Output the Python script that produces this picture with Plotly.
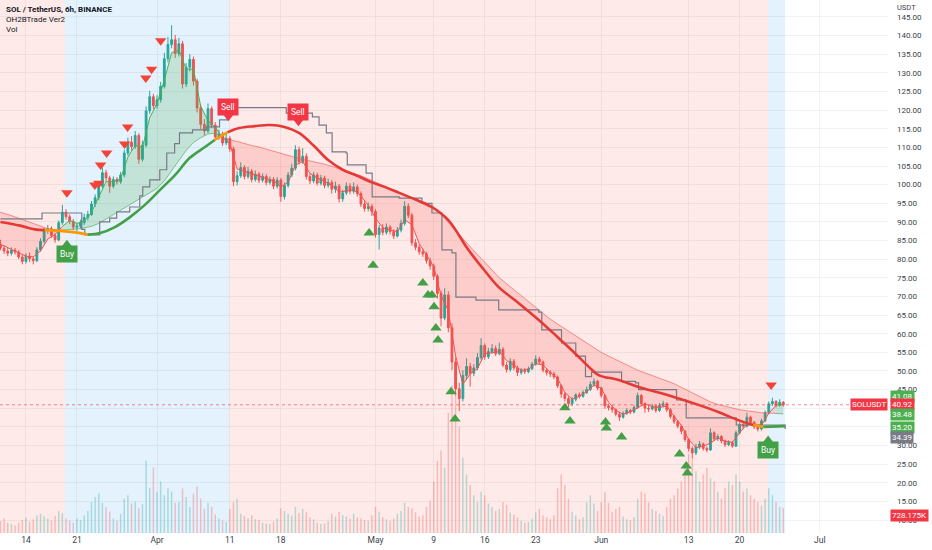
import plotly.graph_objects as go
import pandas as pd
import numpy as np

# ---- 12h candles, SOL/USDT (Mar 10 12:00 -> Jun 26 00:00) ----
first_open = 84.0
close = [
    83.0,
    82.2, 81.6, 82.4, 81.9, 80.6, 79.4, 80.8, 80.1, 79.6, 82.5,
    84.8, 87.6, 88.2, 86.4, 85.2, 89.8, 92.6, 91.4, 90.2, 88.6,
    88.9, 89.8, 91.2, 92.0, 94.8, 96.5, 99.6, 103.2, 101.8, 99.6,
    101.4, 100.8, 102.6, 108.5, 111.4, 110.2, 113.2, 106.8, 110.6, 119.8,
    123.6, 121.2,
    122.8, 126.4, 133.8, 137.6, 138.9, 135.2, 137.8, 127.0, 131.5, 133.6,
    127.8, 120.6, 116.2, 114.4, 120.4, 116.0, 112.8, 113.6, 111.2, 112.4,
    109.6, 100.8, 102.4, 104.6, 102.2, 103.6, 101.4, 102.8, 101.2, 102.2,
    100.6, 101.4, 99.6, 101.2, 96.8, 99.8, 102.6, 104.4, 109.4, 106.2,
    107.6, 102.2, 101.0, 102.6, 100.4, 101.8, 99.8, 100.6, 98.8, 99.6,
    96.2, 97.8, 99.6, 98.2, 99.4, 97.6, 94.8, 93.6, 94.2, 92.8,
    86.6, 88.4, 87.2, 88.6, 87.4, 86.2, 87.8, 89.6, 94.2, 91.8,
    84.4, 83.2, 82.0, 81.4, 79.6, 78.2, 75.4, 70.8, 64.2, 70.4,
    61.6, 52.4, 45.2, 42.6, 48.8, 51.2, 49.4, 50.8, 53.6, 56.8,
    53.8, 55.2, 56.0, 54.6, 55.8, 51.6, 50.4, 52.6, 50.8, 49.6,
    50.2, 49.8, 50.6, 51.8, 53.2, 52.4, 50.2, 49.6, 49.2, 48.4,
    46.0, 43.8, 42.6, 41.2, 42.4, 43.6, 43.2, 44.2, 45.0, 46.4,
    47.2, 45.4,
    43.4, 40.6, 40.2, 39.6, 38.4, 37.6, 38.6, 39.4, 39.0, 40.2,
    43.4, 41.2, 40.0, 39.8, 40.6, 39.4, 40.8, 41.2, 39.6, 37.8,
    36.4, 35.2, 33.8, 31.6, 29.2, 28.0, 29.6, 30.4, 29.2, 28.8,
    33.4, 31.8, 32.4, 31.2, 30.2, 30.8, 29.8, 33.4, 35.6, 35.2,
    37.6, 36.2, 35.0, 34.4, 36.6, 38.8, 41.2, 41.8, 40.8, 41.6,
    40.92,
]
high = [
    85.2,
    83.8, 83.0, 83.2, 83.0, 82.4, 81.2, 81.6, 81.8, 80.8, 83.2,
    85.6, 88.4, 89.2, 88.8, 87.0, 90.4, 94.6, 93.4, 92.0, 90.8,
    89.8, 90.6, 92.2, 93.0, 95.6, 97.4, 100.4, 104.6, 104.0, 102.4,
    102.2, 102.0, 103.4, 109.4, 112.6, 113.0, 114.4, 113.8, 111.8, 121.0,
    125.2, 124.4,
    124.0, 127.6, 135.4, 139.6, 142.8, 140.2, 139.4, 138.6, 132.6, 135.0,
    134.4, 128.4, 121.4, 117.6, 121.8, 121.0, 116.8, 114.8, 114.2, 113.6,
    113.0, 110.2, 103.6, 106.0, 105.2, 104.8, 104.2, 103.8, 103.4, 103.0,
    102.8, 102.2, 102.0, 102.0, 101.8, 100.6, 103.4, 105.6, 110.6, 110.2,
    109.8, 108.4, 103.0, 103.4, 103.2, 102.6, 102.4, 101.6, 101.2, 100.8,
    100.2, 98.6, 100.6, 100.4, 100.6, 100.0, 98.2, 95.6, 95.2, 94.8,
    93.4, 89.2, 89.4, 89.6, 89.2, 88.0, 88.6, 90.6, 95.6, 95.0,
    92.4, 85.4, 84.0, 82.8, 82.0, 80.4, 78.8, 76.0, 71.6, 72.2,
    71.4, 62.8, 53.6, 46.8, 50.2, 53.4, 52.2, 51.8, 54.8, 58.8,
    57.4, 56.2, 57.2, 56.8, 57.6, 56.4, 52.4, 53.4, 53.2, 51.4,
    50.8, 50.8, 51.2, 52.4, 54.2, 53.8, 52.8, 50.8, 50.2, 49.8,
    48.8, 46.4, 44.4, 43.2, 43.0, 44.0, 44.2, 44.8, 45.8, 47.2,
    48.0, 47.6,
    45.8, 43.8, 41.2, 40.8, 40.0, 39.0, 39.2, 40.0, 39.8, 40.8,
    44.2, 43.8, 41.6, 40.8, 41.2, 41.0, 41.4, 42.0, 41.6, 40.0,
    38.2, 36.8, 35.6, 34.2, 32.0, 29.8, 30.4, 31.2, 30.8, 29.8,
    34.6, 33.8, 33.0, 32.8, 31.6, 31.4, 31.2, 34.0, 36.2, 36.4,
    38.8, 38.0, 36.6, 35.6, 37.2, 39.4, 41.8, 42.8, 42.2, 42.4,
    41.9,
]
low = [
    82.4,
    81.4, 80.8, 81.0, 81.2, 80.0, 78.6, 78.8, 79.2, 78.6, 79.2,
    82.0, 84.2, 86.8, 85.8, 84.4, 84.8, 89.2, 90.6, 89.4, 87.8,
    87.6, 88.2, 89.2, 90.4, 91.6, 94.0, 95.8, 99.0, 100.8, 97.8,
    99.0, 100.0, 100.2, 102.0, 107.8, 109.2, 109.6, 105.6, 106.2, 110.0,
    119.0, 120.2,
    120.4, 122.0, 125.8, 132.8, 136.6, 134.0, 134.4, 125.8, 126.2, 130.4,
    126.6, 119.4, 114.8, 113.2, 113.8, 115.2, 111.8, 112.0, 110.4, 110.6,
    108.8, 99.6, 99.8, 101.8, 101.4, 101.6, 100.6, 100.8, 100.4, 100.6,
    99.8, 100.0, 98.8, 99.0, 95.4, 96.0, 99.2, 102.0, 103.8, 105.4,
    105.6, 101.4, 100.2, 100.4, 99.8, 99.8, 99.0, 99.2, 97.6, 97.8,
    95.2, 95.4, 97.2, 97.4, 97.6, 96.8, 94.0, 92.8, 92.8, 91.6,
    85.8, 82.6, 86.4, 86.6, 86.6, 85.4, 85.8, 87.2, 89.0, 91.0,
    83.6, 82.4, 81.2, 80.6, 78.8, 77.2, 74.4, 69.4, 62.0, 63.6,
    60.4, 50.2, 43.4, 39.2, 41.8, 47.6, 45.8, 48.6, 50.2, 53.0,
    53.0, 53.2, 54.6, 54.0, 54.2, 51.0, 49.6, 49.8, 50.2, 48.6,
    49.0, 49.2, 49.4, 50.2, 51.4, 51.8, 49.6, 48.8, 48.4, 47.8,
    45.4, 42.8, 41.8, 40.2, 40.6, 41.8, 42.6, 42.8, 43.8, 44.6,
    45.8, 44.8,
    42.8, 39.8, 39.4, 38.8, 37.8, 36.6, 37.2, 38.2, 38.4, 38.6,
    39.8, 40.6, 38.8, 39.0, 39.4, 38.8, 39.0, 40.2, 39.0, 37.2,
    35.8, 34.6, 33.0, 31.0, 28.4, 26.6, 27.4, 29.0, 28.6, 28.2,
    28.6, 31.2, 31.2, 30.6, 29.6, 29.8, 29.4, 29.6, 33.0, 34.4,
    34.8, 35.6, 34.4, 33.8, 34.0, 36.2, 38.4, 40.6, 40.2, 40.4,
    40.4,
]
volume_k = [
    350,
    420, 300, 260, 220, 300, 380, 450, 330, 400, 520,
    560, 480, 420, 360, 500, 640, 580, 420, 360, 300,
    420, 380, 520, 640, 900, 1050, 1150, 880, 760, 620,
    420, 360, 560, 1000, 1100, 860, 920, 720, 840, 2100,
    1300, 1900,
    1200, 1500, 1100, 1300, 1200, 880, 900, 1300, 1050, 760,
    1150, 1350, 1000, 700, 880, 760, 540, 420, 360, 320,
    700, 900, 1000, 560, 500, 440, 520, 400, 380, 300,
    280, 260, 330, 420, 720, 640, 560, 500, 760, 580,
    700, 620, 460, 400, 300, 260, 280, 340, 560, 480,
    620, 520, 480, 420, 560, 460, 420, 380, 360, 520,
    760, 620, 460, 400, 360, 420, 560, 640, 880, 760,
    720, 600, 480, 520, 760, 940, 1500, 2100, 2400, 1900,
    3500, 4300, 4000, 3100, 2200, 1700, 1400, 1100, 900, 1200,
    1100, 860, 760, 640, 700, 900, 820, 600, 540, 460,
    360, 300, 320, 420, 600, 700, 520, 460, 400, 520,
    1300, 1700, 1400, 1000, 620, 520, 400, 460, 900, 1100,
    860, 640,
    900, 1200, 880, 620, 700, 760, 480, 400, 380, 460,
    1000, 1200, 1150, 900, 700, 640, 560, 500, 760, 1000,
    1100, 1300, 1500, 1900, 2300, 2200, 1800, 1500, 1700, 1900,
    1600, 1500, 1200, 1000, 1300, 1500, 1400, 1700, 1500, 1200,
    1300, 1100, 1000, 900, 800, 1000, 1300, 1100, 900, 760,
    728.175,
]

# ---- OH2BTrade lines (daily, Mar 10 -> Jun 26) ----
fast_line = [
    84.0,
    83.6, 82.6, 81.8, 80.8, 80.6, 82.2, 85.4, 86.6, 88.8, 90.4,
    89.6, 90.2, 92.6, 96.8, 100.8, 100.8, 101.6, 107.4, 110.6, 110.0,
    118.0,
    121.8, 128.0, 135.4, 136.2, 131.0, 131.0, 121.0, 117.2, 115.4, 112.6,
    111.0, 104.2, 103.6, 102.8, 102.2, 101.6, 101.0, 99.4, 100.6, 105.2,
    106.2, 103.0, 101.8, 100.9, 99.8, 98.0, 98.4, 98.6, 97.0, 94.4,
    91.0, 88.4, 87.8, 87.4, 90.6, 89.2, 84.2, 81.2, 78.0, 70.2,
    66.2, 54.0, 46.4, 49.2, 50.6, 54.6, 55.0, 55.2, 52.8, 51.6,
    50.2, 50.4, 52.0, 51.6, 49.6, 48.0, 44.2, 42.4, 43.2, 44.4,
    46.2,
    45.4, 41.6, 39.4, 38.4, 39.0, 40.0, 41.2, 40.4, 40.2, 40.6,
    37.8, 35.4, 31.6, 29.4, 29.8, 30.6, 32.0, 31.2, 30.8, 33.4,
    35.6, 35.6, 35.4, 38.6, 40.8, 41.08,
]
slow_line = [
    92.9,
    92.4, 91.7, 91.0, 90.3, 89.5, 88.7, 88.2, 87.9, 87.8, 87.9,
    88.1, 88.4, 88.8, 89.6, 90.8, 91.8, 93.0, 94.2, 95.4, 96.6,
    97.8,
    99.0, 101.0, 103.8, 106.6, 109.2, 111.3, 112.6, 113.6, 113.8, 112.8,
    112.0, 111.6, 111.0, 110.5, 110.1, 109.5, 109.0, 108.4, 107.9, 107.3,
    106.8, 106.4, 106.0, 105.5, 104.9, 104.2, 103.6, 102.9, 102.4, 101.5,
    100.7, 99.9, 99.0, 98.2, 97.2, 96.3, 95.3, 94.4, 93.4, 92.0,
    89.8, 87.8, 85.6, 83.4, 81.2, 79.2, 77.0, 75.0, 73.4, 71.8,
    70.2, 68.6, 67.0, 65.4, 63.9, 62.6, 61.3, 60.0, 58.8, 57.6,
    56.2,
    55.0, 54.0, 53.0, 52.0, 51.0, 50.2, 49.5, 48.8, 48.0, 47.3,
    46.6, 45.6, 44.6, 43.6, 42.6, 41.7, 41.0, 40.5, 40.0, 39.6,
    39.3, 39.0, 38.8, 38.7, 38.6, 38.48,
]

thick_time = [
    "2022-03-10 12:00", "2022-03-13 05:00", "2022-03-15 05:00", "2022-03-16 14:00",
    "2022-03-18 17:00", "2022-03-20 17:00", "2022-03-22 12:00", "2022-03-24 05:00",
    "2022-03-26 05:00", "2022-03-28 07:00", "2022-03-30 07:00", "2022-04-01 10:00",
    "2022-04-03 12:00", "2022-04-05 12:00", "2022-04-07 14:00", "2022-04-08 22:00",
    "2022-04-10 17:00", "2022-04-12 07:00", "2022-04-14 10:00", "2022-04-16 12:00",
    "2022-04-18 12:00", "2022-04-20 12:00", "2022-04-22 12:00", "2022-04-24 12:00",
    "2022-04-26 12:00", "2022-04-28 12:00", "2022-04-30 12:00", "2022-05-02 12:00",
    "2022-05-04 06:00", "2022-05-06 12:00", "2022-05-08 18:00", "2022-05-11 00:00",
    "2022-05-13 18:00", "2022-05-15 22:00", "2022-05-17 22:00", "2022-05-20 16:00",
    "2022-05-23 10:00", "2022-05-26 04:00", "2022-05-28 05:00", "2022-05-30 07:00",
    "2022-05-31 15:00", "2022-06-03 09:00", "2022-06-06 03:00", "2022-06-10 05:00",
    "2022-06-14 08:00", "2022-06-17 02:00", "2022-06-19 19:00", "2022-06-21 21:00",
    "2022-06-23 06:00", "2022-06-26 06:00",
]
thick_vals = [
    90.0, 89.0, 88.0, 87.8, 87.6, 87.2, 86.6, 87.0, 88.6, 91.3,
    94.5, 98.6, 102.6, 107.2, 110.1, 112.0, 114.1, 115.2, 115.7, 116.0,
    115.5, 113.9, 110.5, 106.6, 104.0, 102.4, 100.6, 99.2, 97.8, 96.0,
    94.0, 90.5, 82.5, 77.1, 72.5, 68.2, 63.7, 58.8, 55.1, 51.1,
    48.9, 47.6, 45.7, 43.5, 40.9, 39.0, 36.8, 35.5, 35.0, 35.2,
]
thick_phase_start = ["2022-03-01 00:00", "2022-03-16 14:00", "2022-03-22 12:00", "2022-04-08 22:00",
                     "2022-04-10 17:00", "2022-06-21 21:00", "2022-06-23 06:00"]
thick_phase = ["red", "orange", "green", "orange", "red", "orange", "green"]

step_time = [
    "2022-03-10 12:00", "2022-03-15 22:00", "2022-03-16 05:00", "2022-03-21 03:00",
    "2022-03-21 16:00", "2022-03-22 02:00", "2022-03-23 21:00", "2022-03-24 03:00",
    "2022-03-25 12:00", "2022-03-26 11:00", "2022-03-28 06:00", "2022-03-29 15:00",
    "2022-03-30 01:00", "2022-03-31 00:00", "2022-04-01 09:00", "2022-04-02 08:00",
    "2022-04-03 10:00", "2022-04-04 02:00", "2022-04-05 21:00", "2022-04-07 19:00",
    "2022-04-09 14:00", "2022-04-10 16:00", "2022-04-11 05:00", "2022-04-17 19:00",
    "2022-04-18 18:00", "2022-04-22 08:00", "2022-04-23 06:00", "2022-04-24 06:00",
    "2022-04-25 01:00", "2022-04-26 23:00", "2022-04-27 03:00", "2022-04-29 04:00",
    "2022-04-29 17:00", "2022-04-30 13:00", "2022-05-04 06:00", "2022-05-07 09:00",
    "2022-05-08 18:00", "2022-05-10 03:00", "2022-05-11 12:00", "2022-05-12 01:00",
    "2022-05-14 19:00", "2022-05-16 23:00", "2022-05-17 22:00", "2022-05-23 10:00",
    "2022-05-23 20:00", "2022-05-26 13:00", "2022-05-28 12:00", "2022-05-29 20:00",
    "2022-05-30 16:00", "2022-06-01 14:00", "2022-06-03 09:00", "2022-06-03 19:00",
    "2022-06-05 17:00", "2022-06-06 03:00", "2022-06-10 22:00", "2022-06-11 08:00",
    "2022-06-12 16:00", "2022-06-19 03:00", "2022-06-19 13:00", "2022-06-26 06:00",
]
step_vals = [
    90.8, 90.8, 92.4, 92.4, 88.0, 86.5, 86.5, 90.0, 91.0, 92.7,
    94.0, 97.0, 99.4, 101.3, 104.0, 108.5, 111.0, 113.9, 114.7, 115.5,
    117.4, 119.0, 120.7, 120.7, 119.2, 118.2, 116.0, 113.9, 108.8, 108.5,
    105.3, 105.3, 103.1, 96.7, 96.4, 95.0, 92.4, 82.5, 81.7, 69.8,
    69.0, 69.0, 66.4, 65.8, 61.0, 57.5, 54.0, 48.5, 49.7, 49.7,
    49.7, 47.2, 46.8, 45.0, 45.0, 42.2, 37.4, 37.4, 35.5, 34.39,
]

# signal triangles
sell_tri_time = ["2022-03-19 15:00", "2022-03-23 11:00", "2022-03-24 00:00", "2022-03-24 06:00",
                 "2022-03-25 02:00", "2022-03-27 13:00", "2022-03-27 23:00", "2022-03-30 11:00",
                 "2022-03-31 06:00", "2022-04-01 12:00", "2022-06-24 08:00"]
sell_tri_price = [97.8, 99.9, 100.4, 105.3, 108.5, 110.9, 115.5, 128.6, 131.0, 138.6, 46.2]
buy_tri_time = ["2022-04-30 03:00", "2022-04-30 16:00", "2022-05-07 12:00", "2022-05-08 05:00",
                "2022-05-08 18:00", "2022-05-09 01:00", "2022-05-09 07:00", "2022-05-09 14:00",
                "2022-05-11 09:00", "2022-05-11 22:00", "2022-05-27 00:00", "2022-05-27 17:00",
                "2022-06-01 14:00", "2022-06-01 17:00", "2022-06-03 19:00", "2022-06-11 18:00",
                "2022-06-12 16:00", "2022-06-12 20:00"]
buy_tri_price = [87.0, 78.4, 73.6, 70.4, 70.4, 67.2, 61.5, 58.3, 44.4, 37.1, 40.1, 36.6,
                 36.3, 34.7, 32.3, 27.7, 24.5, 22.6]

# Buy / Sell labels: (time, label price, pointer price)
label_text = ["Buy", "Sell", "Sell", "Buy"]
label_time = ["2022-03-19 15:00", "2022-04-10 19:00", "2022-04-20 10:00", "2022-06-23 22:00"]
label_price = [81.4, 120.8, 119.5, 28.8]
label_tip = [84.0, 118.2, 116.9, 31.5]

# background zones
zone_start = ["2022-03-10 00:00", "2022-03-19 08:00", "2022-04-10 23:00", "2022-06-23 22:00"]
zone_end = ["2022-03-19 08:00", "2022-04-10 23:00", "2022-06-23 22:00", "2022-06-26 06:00"]
zone_kind = ["bear", "bull", "bear", "bull"]

x_tick_vals = ["2022-03-14", "2022-03-21", "2022-04-01", "2022-04-11", "2022-04-18", "2022-05-01",
               "2022-05-09", "2022-05-16", "2022-05-23", "2022-06-01", "2022-06-13", "2022-06-20",
               "2022-07-01"]
x_tick_text = ["14", "21", "Apr", "11", "18", "May", "9", "16", "23", "Jun", "13", "20", "Jul"]
price_ticks = list(range(10, 150, 5))
hidden_ticks = [35, 40]   # covered by the value boxes on the scale

UP = "#26A69A"
DOWN = "#EF5350"
COL = {"red": "#E53935", "orange": "#FF9800", "green": "#43A047"}
TXT = "#3b3f4a"

candle_time = pd.date_range("2022-03-10 12:00", periods=len(close), freq="12h")
op = np.array([first_open] + close[:-1])
cl = np.array(close)
hi = np.maximum(np.array(high), np.maximum(op, cl))
lo = np.minimum(np.array(low), np.minimum(op, cl))
vol_colors = ["rgba(38,166,154,0.33)" if c >= o else "rgba(239,83,80,0.33)" for o, c in zip(op, cl)]

fig = go.Figure()

# volume (base axis, drawn first)
fig.add_trace(go.Bar(x=candle_time, y=volume_k, marker_color=vol_colors, marker_line_width=0,
                     width=0.4 * 12 * 3600 * 1000, yaxis="y", hoverinfo="skip"))

# fast / slow fill
line_days = pd.date_range("2022-03-10", periods=len(fast_line), freq="D")
F = np.array(fast_line)
S = np.array(slow_line)
up = F >= S
segs = []
start = 0
for i in range(1, len(F)):
    if up[i] != up[i - 1]:
        segs.append((start, i, up[start]))
        start = i
segs.append((start, len(F) - 1, up[start]))
for a, b, is_up in segs:
    fillc = "rgba(76,175,80,0.22)" if is_up else "rgba(244,67,54,0.17)"
    slow_c = "rgba(76,175,80,0.65)" if is_up else "rgba(239,83,80,0.6)"
    fast_c = "#4CAF50" if is_up else "#EF5350"
    fig.add_trace(go.Scatter(x=line_days[a:b + 1], y=S[a:b + 1], yaxis="y2", mode="lines",
                             line=dict(color=slow_c, width=1), hoverinfo="skip"))
    fig.add_trace(go.Scatter(x=line_days[a:b + 1], y=F[a:b + 1], yaxis="y2", mode="lines",
                             line=dict(color=fast_c, width=1), fill="tonexty", fillcolor=fillc,
                             hoverinfo="skip"))

# candles
fig.add_trace(go.Candlestick(
    x=candle_time, open=op, high=hi, low=lo, close=cl, yaxis="y2",
    increasing=dict(line=dict(color=UP, width=1), fillcolor=UP),
    decreasing=dict(line=dict(color=DOWN, width=1), fillcolor=DOWN),
    whiskerwidth=0, hoverinfo="skip"))

# gray step line
fig.add_trace(go.Scatter(x=pd.to_datetime(step_time), y=step_vals, yaxis="y2", mode="lines",
                         line=dict(color="#787B86", width=1.2, shape="hv"), hoverinfo="skip"))

# thick line coloured by phase
tt = pd.to_datetime(thick_time)
starts = pd.to_datetime(thick_phase_start)


def phase_of(t):
    ph = thick_phase[0]
    for s, p in zip(starts, thick_phase):
        if t >= s:
            ph = p
    return ph


seg_ph = [phase_of(tt[i]) for i in range(len(tt) - 1)]
i = 0
while i < len(seg_ph):
    j = i
    while j + 1 < len(seg_ph) and seg_ph[j + 1] == seg_ph[i]:
        j += 1
    fig.add_trace(go.Scatter(x=tt[i:j + 2], y=thick_vals[i:j + 2], yaxis="y2", mode="lines",
                             line=dict(color=COL[seg_ph[i]], width=2.6, shape="spline"),
                             hoverinfo="skip"))
    i = j + 1

# triangles
fig.add_trace(go.Scatter(x=pd.to_datetime(sell_tri_time), y=sell_tri_price, yaxis="y2", mode="markers",
                         marker=dict(symbol="triangle-down", size=10, color="#F44336"), hoverinfo="skip"))
fig.add_trace(go.Scatter(x=pd.to_datetime(buy_tri_time), y=buy_tri_price, yaxis="y2", mode="markers",
                         marker=dict(symbol="triangle-up", size=10, color="#43A047"), hoverinfo="skip"))

# Buy / Sell label pointers
for txt, t, tip in zip(label_text, label_time, label_tip):
    c = "#43A047" if txt == "Buy" else "#F23645"
    sym = "triangle-up" if txt == "Buy" else "triangle-down"
    fig.add_trace(go.Scatter(x=[pd.Timestamp(t)], y=[tip], yaxis="y2", mode="markers",
                             marker=dict(symbol=sym, size=9, color=c), hoverinfo="skip"))

annotations = []
for txt, t, p in zip(label_text, label_time, label_price):
    c = "#43A047" if txt == "Buy" else "#F23645"
    annotations.append(dict(x=pd.Timestamp(t), y=p, xref="x", yref="y2", text=txt, showarrow=False,
                            font=dict(size=8.5, color="white"), bgcolor=c, borderpad=3))

# legend texts top-left
for k, txt in enumerate(["<b>SOL / TetherUS, 6h, BINANCE</b>", "OH2BTrade Ver2", "Vol"]):
    annotations.append(dict(x=0, y=1, xref="paper", yref="paper", xanchor="left", yanchor="middle",
                            xshift=4, yshift=-9 - 10 * k, text=txt, showarrow=False,
                            font=dict(size=8, color="#131722")))
annotations.append(dict(x=1, y=1, xref="paper", yref="paper", xanchor="left", yanchor="middle",
                        xshift=7, yshift=-7, text="USDT", showarrow=False,
                        font=dict(size=7.5, color=TXT)))

# right scale value boxes
boxes = [("41.08", 41.08, "#4CAF50", 8), ("40.92", 40.92, "#F23645", 0), ("38.48", 38.48, "#4CAF50", -1),
         ("35.20", 35.20, "#4CAF50", -1), ("34.39", 34.39, "#787B86", -8)]
for txt, v, c, ys in boxes:
    annotations.append(dict(x=1, y=v, xref="paper", yref="y2", xanchor="left", yanchor="middle",
                            xshift=2, yshift=ys, text=txt, showarrow=False, bgcolor=c, borderpad=1,
                            font=dict(size=8, color="white")))
annotations.append(dict(x=1, y=40.92, xref="paper", yref="y2", xanchor="right", yanchor="middle",
                        xshift=0, text="SOLUSDT", showarrow=False, bgcolor="#F23645", borderpad=1,
                        font=dict(size=8, color="white")))
annotations.append(dict(x=1, y=18 / 533, xref="paper", yref="paper", xanchor="left", yanchor="middle",
                        xshift=2, text="728.175K", showarrow=False, bgcolor="#F23645", borderpad=1,
                        font=dict(size=8, color="white")))

shapes = []
for s0, s1, kind in zip(zone_start, zone_end, zone_kind):
    fc = "rgba(244,67,54,0.11)" if kind == "bear" else "rgba(33,150,243,0.12)"
    shapes.append(dict(type="rect", xref="x", yref="paper", x0=s0, x1=s1, y0=0, y1=1,
                       fillcolor=fc, line_width=0, layer="below"))
shapes.append(dict(type="line", xref="paper", yref="y2", x0=0, x1=1, y0=40.92, y1=40.92,
                   line=dict(color="rgba(242,54,69,0.6)", width=1, dash="dot")))

fig.update_layout(
    width=932, height=550,
    margin=dict(l=0, r=44, t=0, b=17, pad=0),
    plot_bgcolor="white", paper_bgcolor="white",
    font=dict(family="Roboto, Arial, sans-serif", size=8, color=TXT),
    showlegend=False,
    xaxis=dict(type="date", range=["2022-03-10 10:30", "2022-07-10 09:00"],
               tickvals=x_tick_vals, ticktext=x_tick_text, showgrid=True,
               gridcolor="rgba(42,46,57,0.06)", zeroline=False, showline=False, ticks="",
               rangeslider=dict(visible=False), tickfont=dict(size=8.5, color=TXT)),
    yaxis=dict(range=[0, 15510], visible=False),
    yaxis2=dict(overlaying="y", side="right", range=[6.51, 149.56], tickvals=price_ticks,
                ticktext=["" if v in hidden_ticks else f"{v:.2f}" for v in price_ticks],
                showgrid=True, gridcolor="rgba(42,46,57,0.06)", zeroline=False, showline=False,
                ticks="", ticklabelstandoff=8, tickfont=dict(size=8, color=TXT)),
    shapes=shapes,
    annotations=annotations,
)

fig.write_html("out.html", config={"displayModeBar": False},
               post_script="document.body.style.margin='0';")
